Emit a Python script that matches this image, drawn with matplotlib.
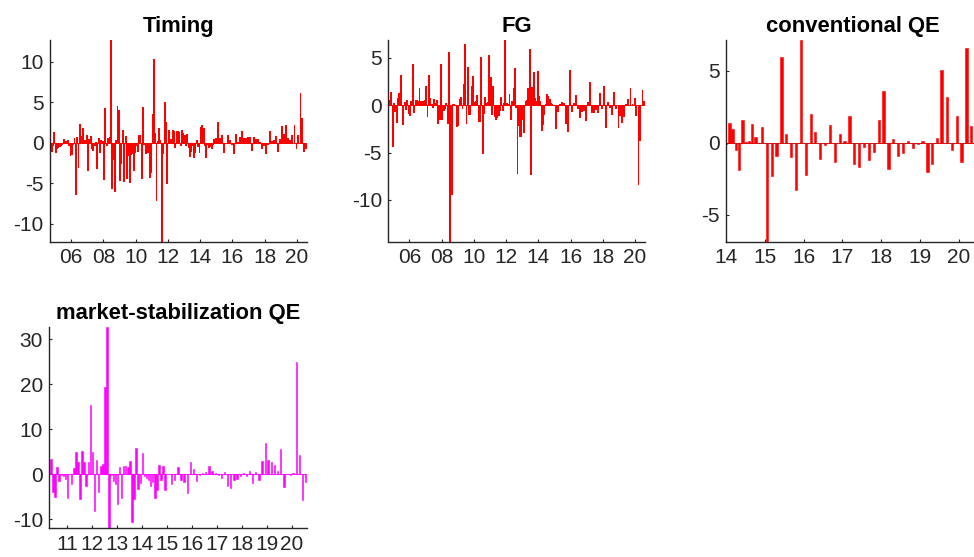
import matplotlib
matplotlib.use("Agg")
import matplotlib.pyplot as plt
import numpy as np

plt.rcParams['font.family'] = ['Liberation Sans', 'DejaVu Sans']
plt.rcParams['axes.unicode_minus'] = False

# ---------------- meeting schedule (month, day) ----------------
MONTHLY = [(m, 5) for m in range(1, 13)]
SIX_WEEK = [(1, 22), (3, 8), (4, 20), (6, 6), (7, 20), (9, 8), (10, 24), (12, 10)]

timing_schedule = ([(2004, MONTHLY[8:])] + [(y, MONTHLY) for y in range(2005, 2015)]
                   + [(y, SIX_WEEK) for y in range(2015, 2020)] + [(2020, SIX_WEEK[:5])])
msqe_schedule = ([(2010, MONTHLY[4:])] + [(y, MONTHLY) for y in range(2011, 2015)]
                 + [(y, SIX_WEEK) for y in range(2015, 2020)] + [(2020, SIX_WEEK[:5])])
cqe_schedule = ([(2014, MONTHLY)] + [(y, SIX_WEEK) for y in range(2015, 2020)]
                + [(2020, SIX_WEEK[:3])])

# ---------------- series values ----------------
timing = [
    -1.5, -1.0, -0.3, 1.3,                                              # 2004
    -1.2, -0.7, -0.5, -0.4, -0.3, -0.2, 0.5, 0.2, 0.25, 0.3, -0.3, -1.5,  # 2005
    -1.4, -0.2, 0.6, -6.3, 0.7, -3.0, 2.3, 0.8, 1.8, 0.4, 0.3, 1.0,     # 2006
    -3.4, 0.5, 0.8, -0.6, -0.9, -0.3, 0.1, -3.1, 0.6, -1.1, 0.4, 0.2,   # 2007
    -4.5, 4.3, -0.3, 0.6, 0.7, 12.7, -5.6, -2.0, -6.0, 0.3, 4.5, 4.0,   # 2008
    -4.6, -2.5, 1.6, -4.7, 0.8, -4.3, -1.5, -4.8, -1.4, -1.3, -3.4, -1.2,  # 2009
    -0.3, -1.0, 0.9, 0.9, -4.3, 4.4, -0.2, -1.3, -0.9, -1.2, -4.2, -3.6,   # 2010
    3.5, 10.3, 1.2, -7.1, 0.2, 1.8, 0.4, -12.2, -1.3, 5.0, 2.6, -5.0,   # 2011
    1.6, 0.4, 0.5, 1.6, 1.5, -0.5, 1.5, 1.4, 1.3, -0.3, 1.6, 1.2,       # 2012
    1.0, -0.3, 1.1, -0.5, -1.6, -1.0, -0.3, -1.7, -1.2, 0.3, -0.4, -1.2,  # 2013
    2.0, 2.2, 1.8, -0.3, -1.7, -0.2, -0.5, -0.4, -0.6, -0.2, 0.5, 0.6,  # 2014
    2.6, 0.6, 1.0, -1.1, 0.0, 0.9, 0.3, -0.2,                           # 2015
    -1.3, 1.1, 0.1, 0.7, 1.4, 0.6, 0.6, 0.7,                            # 2016
    0.7, -0.9, 0.7, 0.5, 0.5, 0.1, -0.6, -0.3,                          # 2017
    -1.3, -0.2, 1.4, 0.2, 0.4, 0.8, -1.0, 0.5,                          # 2018
    2.1, 1.1, 2.2, 0.6, 0.4, 0.9, 2.2, -0.7,                            # 2019
    0.9, 6.1, 3.0, -1.0, -0.6,                                          # 2020
]

fg = [
    0.6, 0.5, 1.4, -4.3,                                                # 2004
    0.2, -0.6, -1.8, 0.8, 1.3, 3.2, 0.0, -2.0, 0.3, -0.4, 0.6, -0.8,    # 2005
    -1.0, 0.5, 4.4, -0.7, 0.6, 0.6, 0.5, 1.8, 0.5, 0.5, 0.4, 0.6,       # 2006
    2.0, -1.1, 3.2, 0.8, 0.1, -0.2, 0.7, 0.2, 0.6, -1.9, -1.4, 4.4,     # 2007
    -1.4, -0.5, -0.3, 0.2, -1.9, 5.6, -14.4, -9.4, 0.1, 0.1, 0.0, -2.2,  # 2008
    -2.1, 0.7, 0.9, -0.3, 2.2, 6.5, -1.9, 4.0, -0.9, -0.9, 2.0, 3.1,    # 2009
    0.3, 0.5, 1.1, -1.7, -1.7, 5.1, -5.0, -0.8, 0.9, 0.2, 0.3, 5.3,     # 2010
    3.0, -0.9, 2.0, -1.1, -1.5, -1.2, -1.0, -0.5, 0.9, -0.5, 0.2, 6.9,  # 2011
    0.2, 0.1, 1.2, -1.4, 0.5, 1.8, 3.9, -0.2, -7.2, -2.1, -3.3, -3.3,   # 2012
    -1.5, -2.8, 0.5, 0.6, 1.8, 6.0, -7.3, 1.9, 3.5, 0.8, 0.4, 3.6,      # 2013
    1.0, 0.5, -2.6, -2.0, -0.9, 0.1, 1.2, 1.0, 0.7, 0.2, 0.1, 0.0,      # 2014
    -2.4, -0.6, 0.1, 0.3, 0.2, -1.9, -2.7, 3.7,                         # 2015
    -0.6, 0.2, 1.1, -0.3, -1.2, -0.6, -0.5, -1.6,                       # 2016
    0.3, 2.5, -0.7, -0.7, -0.4, -0.7, 1.3, -0.3,                        # 2017
    2.0, -2.3, 0.3, -0.2, -0.9, 1.4, -0.3, -2.3,                        # 2018
    -1.0, -1.8, -1.1, 0.1, 0.7, 1.8, 0.1, 0.8,                          # 2019
    -1.0, -8.3, -3.7, 1.6, 0.5,                                         # 2020
]

cqe = [
    -0.1, 1.4, 1.0, -0.5, -1.9, 1.6, 0.05, 0.1, 1.3, 0.4, 0.0, 1.1,     # 2014
    -6.85, -2.3, -0.9, 6.0, 0.65, -1.0, -3.3, 7.15,                     # 2015
    -2.2, 2.0, 0.75, -1.1, -0.15, 1.25, -1.3, 0.6,                      # 2016
    0.1, 1.9, -1.5, -1.7, -0.3, -1.2, -0.6, 1.6,                        # 2017
    3.6, -1.8, 0.25, -0.9, -0.7, 0.15, -0.35, -0.1,                     # 2018
    0.1, -2.0, -1.5, 0.35, 5.1, 3.2, -0.5, 1.85,                        # 2019
    -1.3, 6.6, 1.15,                                                    # 2020
]

msqe = [
    3.4, -4.0, -5.0, 1.5, -1.5, -0.3, -0.5, -1.0,                       # 2010
    -5.3, 0.1, -2.3, 1.3, 4.9, 2.8, -5.6, 5.1, 2.6, -2.6, 2.8, 15.4,    # 2011
    4.9, -8.2, 3.1, -3.9, 1.8, 2.3, 19.4, 32.6, -11.9, -0.3, -1.5, -2.1,  # 2012
    -6.7, 1.6, -5.3, 1.8, 1.7, 1.5, 3.0, -10.6, -5.6, 5.7, -3.4, -2.0,  # 2013
    4.6, -0.5, -0.8, -1.4, -2.7, -1.8, -5.4, -3.6, 2.0, -1.4, 1.8, -3.5,  # 2014
    0.0, -2.2, -1.2, 1.6, -1.2, -1.7, -4.2, 2.6,                        # 2015
    1.1, -1.5, -0.2, 0.2, 0.4, 1.8, 0.7, 0.3,                           # 2016
    -0.2, -0.9, 0.5, -2.7, -3.0, -1.2, -1.0, -0.4,                      # 2017
    0.3, -0.5, 0.8, -1.9, 0.5, -1.2, 2.9, 7.0,                          # 2018
    3.2, 2.7, 2.1, 0.6, 5.5, -2.9, 0.0, -0.2,                           # 2019
    0.3, 24.8, 4.2, -5.8, -1.8,                                         # 2020
]

titles = ["Timing", "FG", "conventional QE", "market-stabilization QE"]
yticks = [[-10, -5, 0, 5, 10], [-10, -5, 0, 5], [-5, 0, 5], [-10, 0, 10, 20, 30]]
xtick_years = [list(range(2006, 2021, 2)), list(range(2006, 2021, 2)),
               list(range(2014, 2021)), list(range(2011, 2021))]


def meeting_dates(schedule):
    out = []
    for year, sched in schedule:
        for m, d in sched:
            out.append(year + (m - 1) / 12 + (d - 1) / 365)
    return np.array(out)


# ---------------- figure ----------------
W, H = 974, 557
fig = plt.figure(figsize=(W / 100, H / 100), dpi=100)


def pos(left, right, top, bottom):
    return [left / W, (H - bottom) / H, (right - left) / W, (bottom - top) / H]


panels = [
    (pos(50, 307, 40, 241.5), timing_schedule, timing, '#ff0000', '#ff0000', (2004.69, 2020.62), 0.055, False),
    (pos(388.3, 645, 40, 241.5), timing_schedule, fg, '#ff0000', '#ff0000', (2004.69, 2020.62), 0.055, False),
    (pos(725.7, 980.5, 40, 241.5), cqe_schedule, cqe, '#ff0000', '#a00000', (2014.0, 2020.55), 0.062, True),
    (pos(49.3, 306.7, 327.3, 527.7), msqe_schedule, msqe, '#ff00ff', '#ff00ff', (2010.28, 2020.6), 0.06, True),
]

axc = '#262626'
for i, (rect, sched, vals, col, basecol, xl, bw, aa) in enumerate(panels):
    ax = fig.add_axes(rect)
    x = meeting_dates(sched)
    v = np.array(vals)
    ax.axhline(0, color=basecol, lw=0.6, zorder=1)
    ax.bar(x, v, width=bw, color=col, edgecolor=col, linewidth=0.4,
           antialiased=aa, zorder=2)
    ax.set_xlim(*xl)
    ax.set_ylim(v.min(), v.max())
    ax.set_yticks(yticks[i])
    ax.set_yticklabels([str(t) for t in yticks[i]])
    ax.set_xticks(xtick_years[i])
    ax.set_xticklabels(['%02d' % (y % 100) for y in xtick_years[i]])
    for s in ['top', 'right']:
        ax.spines[s].set_visible(False)
    for s in ['left', 'bottom']:
        ax.spines[s].set_color(axc)
        ax.spines[s].set_linewidth(1.0)
    ax.tick_params(direction='in', length=2.5, width=0.8, color=axc,
                   labelcolor=axc, labelsize=15)
    ax.tick_params(axis='x', pad=5.0)
    ax.tick_params(axis='y', pad=4.5)
    ax.set_title(titles[i], fontsize=15.8, fontweight='bold', pad=5.8, color='black')
    ax.set_facecolor('none')

fig.savefig('out.png', dpi=100)
